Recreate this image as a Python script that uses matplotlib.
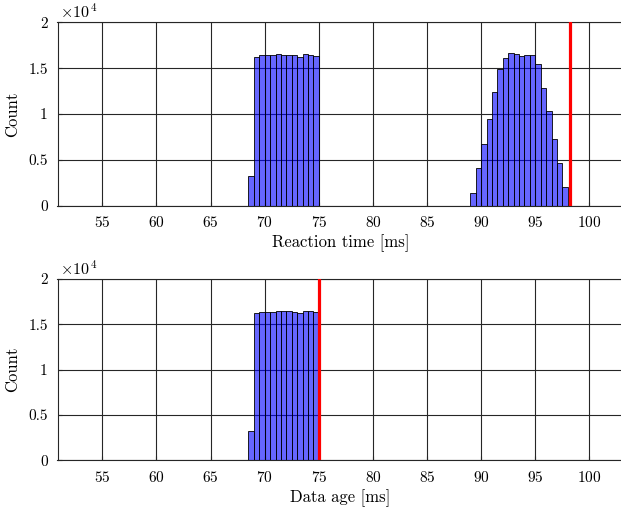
import numpy as np
import matplotlib
matplotlib.use("Agg")
import matplotlib.pyplot as plt

plt.rcParams["font.family"] = "cmr10"
plt.rcParams["mathtext.fontset"] = "cm"
plt.rcParams["axes.formatter.use_mathtext"] = True

# Histogram bins (0.5 ms wide)
bin_width = 0.5
reaction_first_edge = 68.5
age_first_edge = 68.5

# Counts for the reaction-time histogram, starting at 68.5 ms
reaction_counts = [
    3200, 16270, 16410, 16410, 16410, 16520, 16480, 16450, 16410, 16230, 16520, 16480, 16380,
    0, 0, 0, 0, 0, 0, 0, 0, 0, 0, 0, 0, 0, 0,
    0, 0, 0, 0, 0, 0, 0, 0, 0, 0, 0, 0, 0, 0,
    1350, 4080, 6730, 9430, 12410, 14880, 16080, 16630, 16520, 16340, 16450, 16480,
    15470, 12880, 10330, 7310, 4620, 2040,
]

# Counts for the data-age histogram, starting at 68.5 ms
age_counts = [
    3200, 16270, 16410, 16410, 16410, 16520, 16480, 16450, 16410, 16230, 16520, 16480, 16380,
]

reaction_max = 98.24
age_max = 75.05

xticks = [55, 60, 65, 70, 75, 80, 85, 90, 95, 100]
yticks = [0, 5000, 10000, 15000, 20000]
ytick_labels = ["0", "0.5", "1", "1.5", "2"]

fig = plt.figure(figsize=(6.21, 5.08), dpi=100)
W, H = 621, 508


def make_axes(top_px, bottom_px):
    left_px, right_px = 57.5, 623
    return fig.add_axes([left_px / W, 1 - bottom_px / H,
                         (right_px - left_px) / W, (bottom_px - top_px) / H])


def draw_hist(ax, first_edge, counts, max_line, xlabel):
    counts = np.asarray(counts)
    lefts = first_edge + bin_width * np.arange(len(counts))
    ax.bar(lefts, counts, width=bin_width, align="edge",
           facecolor=(0, 0, 1, 0.6), edgecolor=(0, 0, 0, 1), linewidth=0.6, zorder=2)
    ax.axvline(max_line, color="#ff0000", linewidth=2.3, zorder=3)
    ax.set_xlim(50.86, 103.1)
    ax.set_ylim(0, 20000)
    ax.set_xticks(xticks)
    ax.set_yticks(yticks)
    ax.set_yticklabels(ytick_labels)
    ax.grid(True, color="#262626", linewidth=0.8, zorder=0)
    ax.set_axisbelow(True)
    ax.tick_params(direction="in", length=3, labelsize=11, pad=7, color="#262626")
    for s in ["left", "bottom", "top", "right"]:
        ax.spines[s].set_color("#262626")
        ax.spines[s].set_linewidth(0.8)
    ax.set_xlabel(xlabel, fontsize=12, labelpad=3)
    ax.set_ylabel("Count", fontsize=12, labelpad=6)
    ax.text(0.005, 1.008, r"$\times10^{\,4}$", transform=ax.transAxes,
            fontsize=11.5, ha="left", va="bottom")


ax1 = make_axes(22.5, 205.7)
draw_hist(ax1, reaction_first_edge, reaction_counts, reaction_max, "Reaction time [ms]")

ax2 = make_axes(279.0, 460.3)
draw_hist(ax2, age_first_edge, age_counts, age_max, "Data age [ms]")

fig.savefig("out.png", dpi=100)
